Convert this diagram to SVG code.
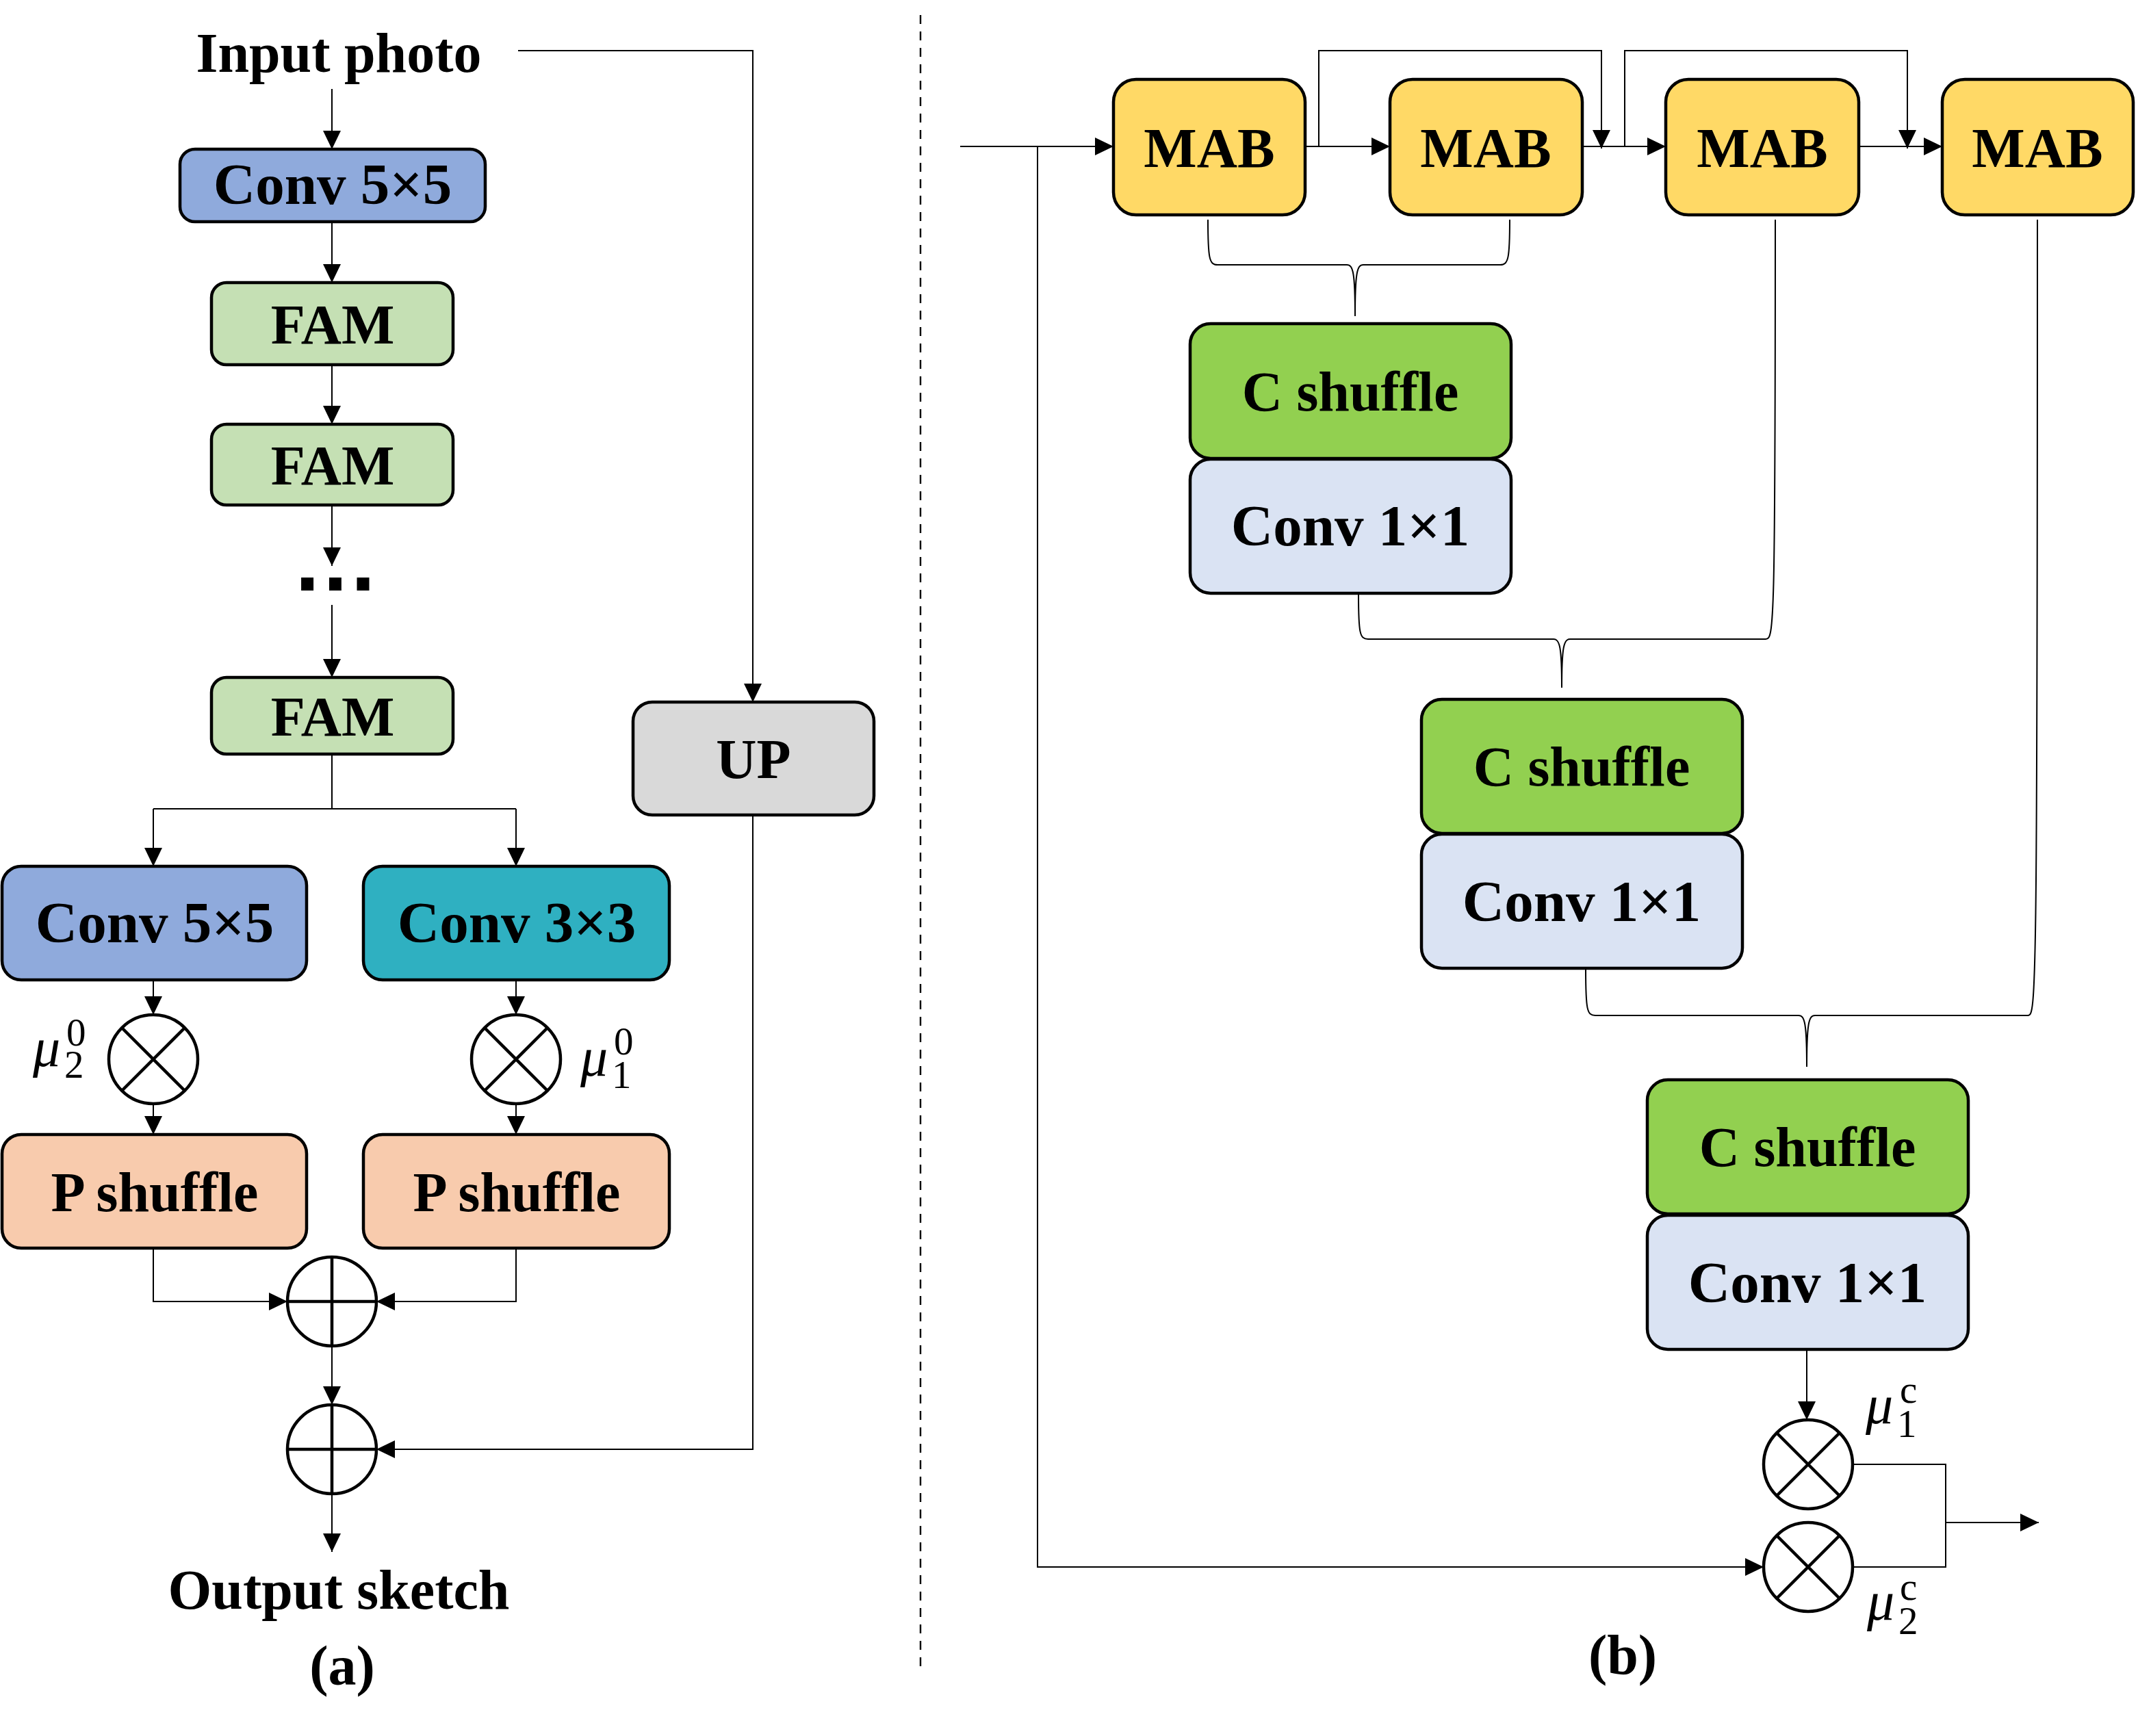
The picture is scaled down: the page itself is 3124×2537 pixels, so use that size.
<svg xmlns="http://www.w3.org/2000/svg" width="3124" height="2537" viewBox="0 0 3124 2537">
<style>
.box{stroke:#000;stroke-width:4.5}
.lbl{font-family:"Liberation Serif","Times New Roman",serif;font-weight:bold;font-size:82px;text-anchor:middle;fill:#000}
.cv{font-size:85px}
.ln{fill:none;stroke:#000;stroke-width:2}
.op{fill:#fff;stroke:#000;stroke-width:4.5}
.opl{stroke:#000;stroke-width:4.5}
.mut{font-family:"Liberation Serif","Times New Roman",serif;font-size:57px;fill:#000}
.mu{font-style:italic;font-size:80px}
</style>
<defs>
<marker id="ar" markerUnits="userSpaceOnUse" markerWidth="27" markerHeight="26" refX="27" refY="13" orient="auto">
<path d="M0,0 L27,13 L0,26 z" fill="#000"/>
</marker>
</defs>
<rect width="3124" height="2537" fill="#fff"/>

<!-- separator -->
<line x1="1345" y1="22" x2="1345" y2="2442" stroke="#000" stroke-width="2.4" stroke-dasharray="13 11"/>

<g id="connectors">
  <!-- left panel -->
  <path class="ln" d="M485,130 V218" marker-end="url(#ar)"/>
  <path class="ln" d="M757,74 H1100 V1026" marker-end="url(#ar)"/>
  <path class="ln" d="M485,324 V413" marker-end="url(#ar)"/>
  <path class="ln" d="M485,533 V620" marker-end="url(#ar)"/>
  <path class="ln" d="M485,738 V827" marker-end="url(#ar)"/>
  <path class="ln" d="M485,884 V990" marker-end="url(#ar)"/>
  <path class="ln" d="M485,1102 V1182"/>
  <path class="ln" d="M224,1182 H754"/>
  <path class="ln" d="M224,1182 V1266" marker-end="url(#ar)"/>
  <path class="ln" d="M754,1182 V1266" marker-end="url(#ar)"/>
  <path class="ln" d="M224,1432 V1483" marker-end="url(#ar)"/>
  <path class="ln" d="M754,1432 V1483" marker-end="url(#ar)"/>
  <path class="ln" d="M224,1613 V1658" marker-end="url(#ar)"/>
  <path class="ln" d="M754,1613 V1658" marker-end="url(#ar)"/>
  <path class="ln" d="M224,1824 V1902 H420" marker-end="url(#ar)"/>
  <path class="ln" d="M754,1824 V1902 H550" marker-end="url(#ar)"/>
  <path class="ln" d="M485,1967 V2053" marker-end="url(#ar)"/>
  <path class="ln" d="M1100,1191 V2118 H550" marker-end="url(#ar)"/>
  <path class="ln" d="M485,2183 V2268" marker-end="url(#ar)"/>

  <!-- right panel -->
  <path class="ln" d="M1403,214 H1627" marker-end="url(#ar)"/>
  <path class="ln" d="M1516,214 V2290 H2577" marker-end="url(#ar)"/>
  <path class="ln" d="M1907,214 H2031" marker-end="url(#ar)"/>
  <path class="ln" d="M2312,214 H2434" marker-end="url(#ar)"/>
  <path class="ln" d="M2716,214 H2838" marker-end="url(#ar)"/>
  <path class="ln" d="M1927,214 V74 H2340 V217" marker-end="url(#ar)"/>
  <path class="ln" d="M2374,214 V74 H2787 V217" marker-end="url(#ar)"/>
  <!-- braces -->
  <path class="ln" d="M1765,321 C1765,378 1767,387 1779,387 L1968,387 C1977,387 1980,398 1980,462 M2206,321 C2206,378 2204,387 2192,387 L1992,387 C1983,387 1980,398 1980,462"/>
  <path class="ln" d="M1985,869 C1985,926 1987,934 1999,934 L2270,934 C2279,934 2282,945 2282,1005 M2594,321 C2594,920 2592,934 2580,934 L2294,934 C2285,934 2282,945 2282,1005"/>
  <path class="ln" d="M2317,1417 C2317,1476 2319,1484 2331,1484 L2628,1484 C2637,1484 2640,1495 2640,1559 M2977,321 C2977,1470 2975,1484 2963,1484 L2652,1484 C2643,1484 2640,1495 2640,1559"/>
  <path class="ln" d="M2640,1972 V2075" marker-end="url(#ar)"/>
  <path class="ln" d="M2707,2140 H2843 V2290 H2707"/>
  <path class="ln" d="M2843,2225 H2979" marker-end="url(#ar)"/>
</g>

<!-- left panel nodes -->
<g id="input"><text class="lbl" x="495" y="105">Input photo</text></g>
<g id="conv5a"><rect class="box" x="263" y="218" width="446" height="106" rx="22" fill="#8FAADC"/><text class="lbl cv" x="486" y="298">Conv 5×5</text></g>
<g id="fam1"><rect class="box" x="309" y="413" width="353" height="120" rx="22" fill="#C5E0B4"/><text class="lbl" x="486" y="502">FAM</text></g>
<g id="fam2"><rect class="box" x="309" y="620" width="353" height="118" rx="22" fill="#C5E0B4"/><text class="lbl" x="486" y="708">FAM</text></g>
<g id="dots"><text x="490" y="863" style="font-family:'Liberation Sans',Arial,sans-serif;font-weight:bold;font-size:128px;text-anchor:middle">…</text></g>
<g id="fam3"><rect class="box" x="309" y="990" width="353" height="112" rx="22" fill="#C5E0B4"/><text class="lbl" x="486" y="1075">FAM</text></g>
<g id="up"><rect class="box" x="925" y="1026" width="352" height="165" rx="28" fill="#D9D9D9"/><text class="lbl" x="1101" y="1137">UP</text></g>
<g id="conv5b"><rect class="box" x="3" y="1266" width="445" height="166" rx="28" fill="#8FAADC"/><text class="lbl cv" x="226" y="1377">Conv 5×5</text></g>
<g id="conv3"><rect class="box" x="531" y="1266" width="447" height="166" rx="28" fill="#2FB0C1"/><text class="lbl cv" x="755" y="1377">Conv 3×3</text></g>
<g id="mul_l">
  <circle class="op" cx="224" cy="1548" r="65"/>
  <path class="opl" d="M178,1502 L270,1594 M270,1502 L178,1594"/>
  <text class="mut"><tspan class="mu" x="48" y="1558">μ</tspan><tspan x="94" y="1575">2</tspan><tspan x="97" y="1528">0</tspan></text>
</g>
<g id="mul_r">
  <circle class="op" cx="754" cy="1548" r="65"/>
  <path class="opl" d="M708,1502 L800,1594 M800,1502 L708,1594"/>
  <text class="mut"><tspan class="mu" x="848" y="1572">μ</tspan><tspan x="894" y="1590">1</tspan><tspan x="897" y="1541">0</tspan></text>
</g>
<g id="pshuf_l"><rect class="box" x="3" y="1658" width="445" height="166" rx="28" fill="#F8CBAD"/><text class="lbl" x="226" y="1770">P shuffle</text></g>
<g id="pshuf_r"><rect class="box" x="531" y="1658" width="447" height="166" rx="28" fill="#F8CBAD"/><text class="lbl" x="755" y="1770">P shuffle</text></g>
<g id="add1"><circle class="op" cx="485" cy="1902" r="65"/><path class="opl" d="M420,1902 H550 M485,1837 V1967"/></g>
<g id="add2"><circle class="op" cx="485" cy="2118" r="65"/><path class="opl" d="M420,2118 H550 M485,2053 V2183"/></g>
<g id="output"><text class="lbl" x="495" y="2351">Output sketch</text></g>
<g id="cap_a"><text class="lbl" x="500" y="2462">(a)</text></g>

<!-- right panel nodes -->
<g id="mab1"><rect class="box" x="1627" y="116" width="280" height="198" rx="33" fill="#FFD966"/><text class="lbl" x="1767" y="244">MAB</text></g>
<g id="mab2"><rect class="box" x="2031" y="116" width="281" height="198" rx="33" fill="#FFD966"/><text class="lbl" x="2171" y="244">MAB</text></g>
<g id="mab3"><rect class="box" x="2434" y="116" width="282" height="198" rx="33" fill="#FFD966"/><text class="lbl" x="2575" y="244">MAB</text></g>
<g id="mab4"><rect class="box" x="2838" y="116" width="279" height="198" rx="33" fill="#FFD966"/><text class="lbl" x="2977" y="244">MAB</text></g>
<g id="cshuf1"><rect class="box" x="1739" y="473" width="469" height="197" rx="30" fill="#92D050"/><text class="lbl" x="1973" y="600">C shuffle</text></g>
<g id="conv1a"><rect class="box" x="1739" y="671" width="469" height="196" rx="30" fill="#DAE3F3"/><text class="lbl cv" x="1973" y="797">Conv 1×1</text></g>
<g id="cshuf2"><rect class="box" x="2077" y="1022" width="469" height="196" rx="30" fill="#92D050"/><text class="lbl" x="2311" y="1148">C shuffle</text></g>
<g id="conv1b"><rect class="box" x="2077" y="1219" width="469" height="196" rx="30" fill="#DAE3F3"/><text class="lbl cv" x="2311" y="1346">Conv 1×1</text></g>
<g id="cshuf3"><rect class="box" x="2407" y="1578" width="469" height="196" rx="30" fill="#92D050"/><text class="lbl" x="2641" y="1704">C shuffle</text></g>
<g id="conv1c"><rect class="box" x="2407" y="1776" width="469" height="196" rx="30" fill="#DAE3F3"/><text class="lbl cv" x="2641" y="1903">Conv 1×1</text></g>
<g id="mul_c1">
  <circle class="op" cx="2642" cy="2140" r="65"/>
  <path class="opl" d="M2596,2094 L2688,2186 M2688,2094 L2596,2186"/>
  <text class="mut"><tspan class="mu" x="2726" y="2080">μ</tspan><tspan x="2772" y="2100">1</tspan><tspan x="2776" y="2050">c</tspan></text>
</g>
<g id="mul_c2">
  <circle class="op" cx="2642" cy="2290" r="65"/>
  <path class="opl" d="M2596,2244 L2688,2336 M2688,2244 L2596,2336"/>
  <text class="mut"><tspan class="mu" x="2728" y="2367">μ</tspan><tspan x="2774" y="2388">2</tspan><tspan x="2776" y="2338">c</tspan></text>
</g>
<g id="cap_b"><text class="lbl" x="2371" y="2446">(b)</text></g>
</svg>
